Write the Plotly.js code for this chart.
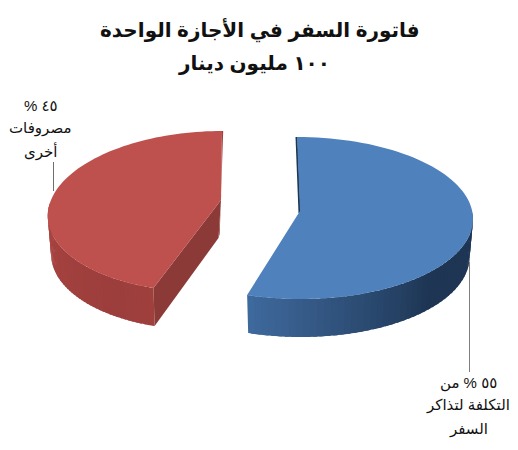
<!DOCTYPE html>
<html><head><meta charset="utf-8">
<script src="https://cdn.plot.ly/plotly-3.0.1.min.js"></script>
<style>html,body{margin:0;padding:0;background:#fff}#c{width:518px;height:450px}</style>
</head><body><div id="c"></div>
<script>
const categories = ["التكلفة لتذاكر السفر", "مصروفات أخرى"];
const shares = [55, 45];
const titleLines = ["فاتورة السفر في الأجازة الواحدة", "١٠٠ مليون دينار"];
const labelBlue = ["٥٥ % من", "التكلفة لتذاكر", "السفر"];
const labelRed = ["% ٤٥", "مصروفات", "أخرى"];
const faceColors = ["#4F81BD", "#BE504D"];
const wallFrom = [[63,106,158],[172,70,67]];
const wallTo = [[30,54,84],[156,62,60]];
const cutColors = ["#1F3651", "#8C3A38"];
const centreX = [299, 213];
const centreY = [218, 211.5];
const radiusX = [174, 165];
const radiusY = [81, 80.5];
const shear = [2, -9];
const apexX = [300, 221];
const apexY = [211, 200];
const wallDepth = 38, wallShrink = 0.98;
const FONT = '"Liberation Sans","DejaVu Sans",sans-serif';

const rad = d => d * Math.PI / 180;
function rim(i, t) {
  return [centreX[i] + radiusX[i] * Math.cos(rad(t)) + shear[i] * Math.sin(rad(t)),
          centreY[i] + radiusY[i] * Math.sin(rad(t))];
}
function low(i, p) { return [centreX[i] + (p[0] - centreX[i]) * wallShrink, p[1] + wallDepth]; }
function poly(pts, color) {
  return {type:'scatter', mode:'none', x:pts.map(p=>p[0]), y:pts.map(p=>p[1]), fill:'toself',
    fillcolor:color, hoverinfo:'skip', showlegend:false};
}
const traces = [];
let start = -90;
shares.forEach((s, i) => {
  const end = start + s * 3.6;
  const wS = Math.max(start, -4), wE = Math.min(end, 186);
  const n = 48, step = (wE - wS) / n;
  for (let j = 0; j < n; j++) {
    const a = wS + step * j, b = Math.min(wE, a + step * 1.6);
    const pts = [];
    for (let q = 0; q <= 3; q++) pts.push(rim(i, a + (b - a) * q / 3));
    for (let q = 3; q >= 0; q--) pts.push(low(i, rim(i, a + (b - a) * q / 3)));
    const f = i === 0 ? 1 - (j + 0.5) / n : (j + 0.5) / n;
    const mix = i === 0 ? Math.min(1, f * 1.7) : 1 - Math.abs(f - 0.2);
    traces.push(poly(pts, 'rgb(' + wallFrom[i].map((c, k) => Math.round(c + (wallTo[i][k] - c) * mix)).join(',') + ')'));
  }
  const A = [apexX[i], apexY[i]];
  if (i === 1) {
    const st = rim(i, end), en = rim(i, start);
    const lowA = [A[0] - 2.5, A[1] + wallDepth];
    traces.push(poly([st, [st[0] + 1.2, st[1]], [lowA[0] + 1.2, lowA[1] - 4], lowA, A], '#9B4442'));
    traces.push(poly([en, A, lowA, low(i, en)], cutColors[i]));
  } else {
    const st = rim(i, start);
    traces.push({type:'scatter', mode:'lines', x:[st[0] - 0.5, A[0] - 0.5], y:[st[1], A[1] + 2],
      line:{color:cutColors[i], width:2}, hoverinfo:'skip', showlegend:false});
  }
  start = end;
});
start = -90;
shares.forEach((s, i) => {
  const end = start + s * 3.6, pts = [[apexX[i], apexY[i]]];
  for (let j = 0; j <= 90; j++) pts.push(rim(i, start + (end - start) * j / 90));
  pts.push([apexX[i], apexY[i]]);
  const tr = poly(pts, faceColors[i]);
  tr.name = categories[i];
  traces.push(tr);
  start = end;
});
const ann = (text, x, y, size, bold) => ({xref:'x', yref:'y', x, y, text: bold ? '<b>'+text+'</b>' : text, showarrow:false,
  xanchor:'center', yanchor:'middle', font:{family:FONT, size, color:'#111'}});
const annotations = [
  ann(titleLines[0], 260, 30, 20, true), ann(titleLines[1], 254, 63, 20, true),
  ann(labelRed[0], 41, 105, 15), ann(labelRed[1], 40, 128, 15), ann(labelRed[2], 40, 151, 15),
  ann(labelBlue[0], 468, 383, 15), ann(labelBlue[1], 468, 405, 15), ann(labelBlue[2], 468, 429, 15)
];
const shapes = [
  {type:'line', xref:'x', yref:'y', x0:53.5, x1:53.5, y0:162, y1:191, line:{color:'#6f6f6f', width:1}},
  {type:'line', xref:'x', yref:'y', x0:469.5, x1:469.5, y0:262, y1:372, line:{color:'#7f7f7f', width:1}}
];
Plotly.newPlot('c', traces, {
  width:518, height:450, margin:{l:0,r:0,t:0,b:0}, paper_bgcolor:'#fff', plot_bgcolor:'#fff', showlegend:false,
  xaxis:{range:[0,518], visible:false, fixedrange:true},
  yaxis:{range:[450,0], visible:false, fixedrange:true},
  annotations, shapes
}, {displayModeBar:false, staticPlot:true});
</script></body></html>
